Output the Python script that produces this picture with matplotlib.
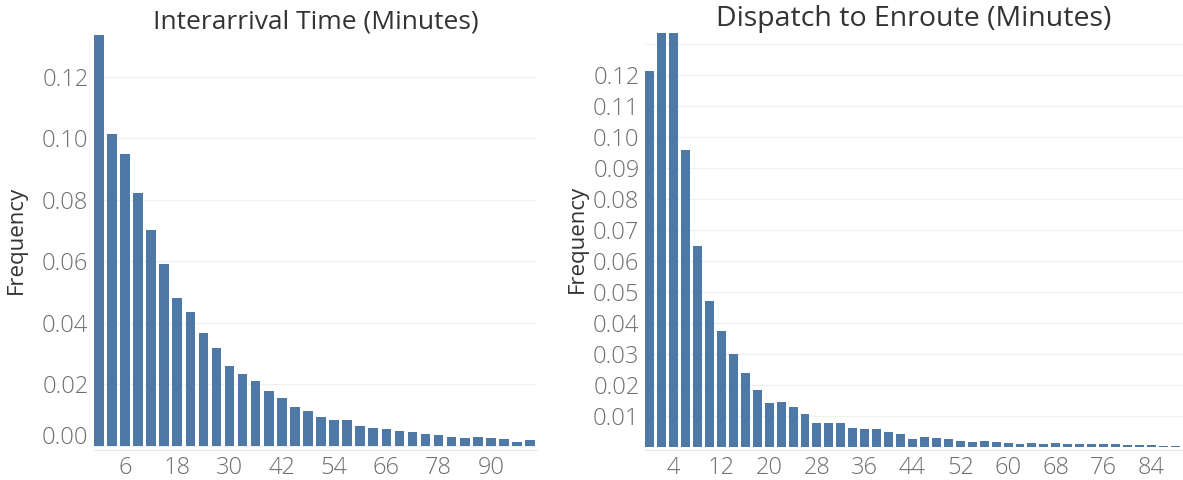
import numpy as np
import matplotlib.pyplot as plt
import matplotlib.transforms as mtransforms

plt.rcParams['font.family'] = ['Open Sans', 'DejaVu Sans']

# interarrival time, 3 minute bins
left_bins = np.arange(0, 100, 3)
left_freq = [0.1335, 0.1015, 0.0949, 0.0821, 0.0701, 0.0590, 0.0481, 0.0435,
             0.0367, 0.0317, 0.0261, 0.0235, 0.0210, 0.0180, 0.0155, 0.0128,
             0.0113, 0.0093, 0.0084, 0.0084, 0.0066, 0.0057, 0.0055, 0.0050,
             0.0047, 0.0038, 0.0035, 0.0029, 0.0027, 0.0029, 0.0025, 0.0022,
             0.0013, 0.0018]
left_xticks = [6, 18, 30, 42, 54, 66, 78, 90]
left_yticks = [0.00, 0.02, 0.04, 0.06, 0.08, 0.10, 0.12]
left_ylabels = ['0.00', '0.02', '0.04', '0.06', '0.08', '0.10', '0.12']

# dispatch to enroute, 2 minute bins
right_bins = np.arange(0, 92, 2)
right_freq = [0.1213, 0.1340, 0.1340, 0.0956, 0.0647, 0.0469, 0.0373, 0.0299,
              0.0237, 0.0183, 0.0142, 0.0145, 0.0130, 0.0105, 0.0078, 0.0078,
              0.0076, 0.0061, 0.0059, 0.0057, 0.0047, 0.0040, 0.0026, 0.0032,
              0.0030, 0.0025, 0.0019, 0.0016, 0.0019, 0.0016, 0.0012, 0.0009,
              0.0013, 0.0010, 0.0011, 0.0010, 0.0010, 0.0010, 0.0008, 0.0010,
              0.0006, 0.0006, 0.0006, 0.0004, 0.0004, 0.0006]
right_xticks = [4, 12, 20, 28, 36, 44, 52, 60, 68, 76, 84]
right_yticks = [0.01, 0.02, 0.03, 0.04, 0.05, 0.06, 0.07, 0.08, 0.09, 0.10,
                0.11, 0.12, 0.13]
right_ylabels = ['0.01', '0.02', '0.03', '0.04', '0.05', '0.06', '0.07', '0.08',
                 '0.09', '0.10', '0.11', '0.12', '']

bar_color = '#4e79a7'
tick_color = '#6f6f6f'
text_color = '#333333'

fig = plt.figure(figsize=(11.83, 4.8), dpi=100)
ax1 = fig.add_axes([0.0795, 0.0625, 0.3745, 0.8646])
ax2 = fig.add_axes([0.5452, 0.0625, 0.4548, 0.8688])


def style(ax, xticks, yticks, ylabels, title, title_size, label_x):
    ax.set_xticks(xticks)
    ax.set_yticks(yticks)
    ax.set_yticklabels(ylabels)
    ax.tick_params(length=0, labelsize=17, colors=tick_color, pad=4)
    for lab in ax.get_xticklabels() + ax.get_yticklabels():
        lab.set_fontweight('light')
    ax.grid(axis='y', color='#f0f0f0', linewidth=1)
    ax.set_axisbelow(True)
    for s in ['top', 'right', 'left']:
        ax.spines[s].set_visible(False)
    ax.spines['bottom'].set_color('#e6e6e6')
    ax.set_ylabel('Frequency', fontsize=16, color=text_color)
    ax.yaxis.set_label_coords(label_x, 0.505)
    ax.set_title(title, fontsize=title_size, color=text_color, pad=5)


ax1.bar(left_bins, left_freq, width=2.2, color=bar_color)
ax1.set_xlim(-1.1, 100.6)
ax1.set_ylim(-0.0013, 0.1335)
style(ax1, left_xticks, left_yticks, left_ylabels,
      'Interarrival Time (Minutes)', 19, -0.151)

# tableau pushes the bottom label up inside the pane
lab0 = ax1.get_yticklabels()[0]
lab0.set_transform(lab0.get_transform() +
                   mtransforms.ScaledTranslation(0, 8 / 72, fig.dpi_scale_trans))

ax2.bar(right_bins, right_freq, width=1.5, color=bar_color)
ax2.set_xlim(-0.8, 89.3)
ax2.set_ylim(-0.001, 0.1334)
style(ax2, right_xticks, right_yticks, right_ylabels,
      'Dispatch to Enroute (Minutes)', 20.5, -0.106)

fig.savefig('out.png', dpi=100)
